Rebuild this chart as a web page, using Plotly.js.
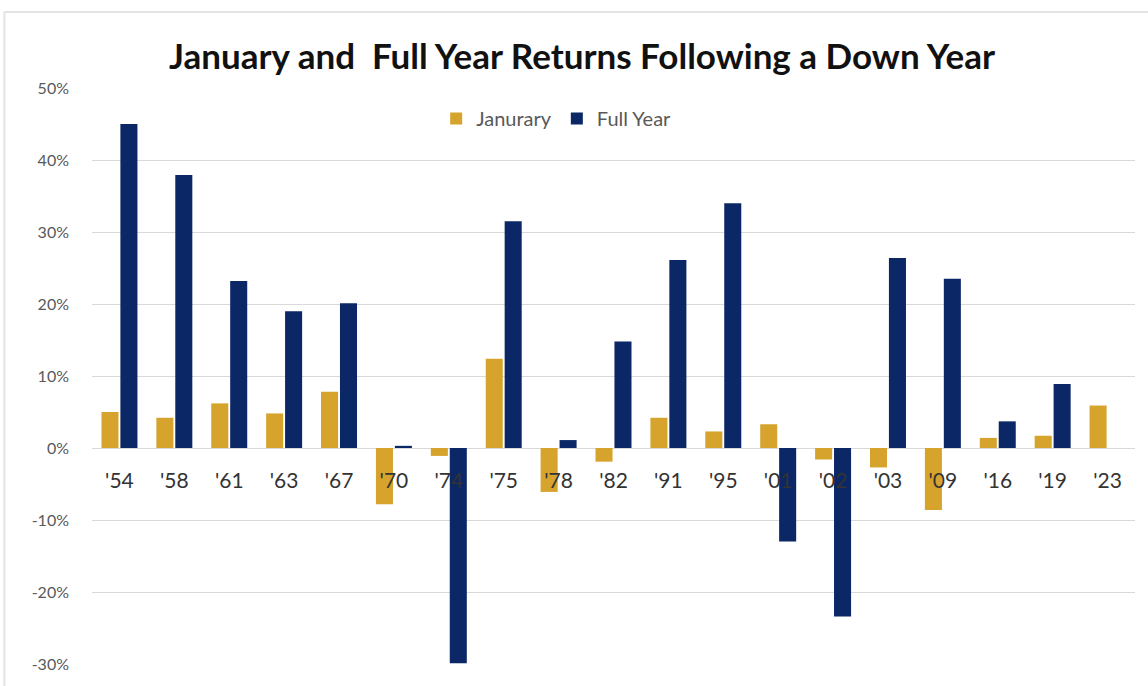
<!DOCTYPE html>
<html>
<head>
<meta charset="utf-8">
<script src="https://cdn.plot.ly/plotly-3.0.1.min.js"></script>
<style>html,body{margin:0;padding:0;background:#fff;}#chart{width:1148px;height:686px;}</style>
</head>
<body>
<div id="chart"></div>
<script>
const years = ["'54","'58","'61","'63","'67","'70","'74","'75","'78","'82","'91","'95","'01","'02","'03","'09","'16","'19","'23"];
const january = [5.0, 4.2, 6.2, 4.8, 7.8, -7.8, -1.1, 12.4, -6.1, -1.9, 4.2, 2.3, 3.3, -1.6, -2.7, -8.6, 1.4, 1.7, 5.9];
const fullYear = [45.0, 37.9, 23.2, 19.0, 20.1, 0.3, -29.9, 31.5, 1.1, 14.8, 26.1, 34.0, -13.0, -23.4, 26.4, 23.5, 3.7, 8.9, null];
const yTicks = [-30, -20, -10, 0, 10, 20, 30, 40, 50];
const yTickText = yTicks.map(v => v + '%');

const yMin = -30, yMax = 50;

const traces = [
  {type: 'bar', name: 'Janurary', x: years, y: january, marker: {color: '#D6A42C'}, hoverinfo: 'x+y'},
  {type: 'bar', name: 'Full Year', x: years, y: fullYear, marker: {color: '#0B2766'}, hoverinfo: 'x+y'}
];

const layout = {
  width: 1148, height: 686,
  margin: {l: 92, r: 13, t: 88, b: 22},
  paper_bgcolor: '#ffffff', plot_bgcolor: '#ffffff',
  font: {family: 'Lato, "Open Sans", sans-serif', color: '#595959'},
  title: {
    text: '<b>January and  Full Year Returns Following a Down Year</b>',
    font: {family: 'Lato, "Open Sans", sans-serif', size: 35, color: '#111111'},
    x: 0.507, xanchor: 'center', y: 0.918, yanchor: 'middle'
  },
  barmode: 'group', bargap: 0.31, bargroupgap: 0.1,
  showlegend: true,
  legend: {
    orientation: 'h', x: 0.33, xanchor: 'left', y: 0.947, yanchor: 'middle',
    font: {size: 20, color: '#595959'}, bgcolor: 'rgba(0,0,0,0)',
    itemwidth: 30, traceorder: 'normal'
  },
  xaxis: {
    type: 'category',
    anchor: 'free',
    position: (0 - yMin) / (yMax - yMin),
    showgrid: false, showline: false, zeroline: false,
    ticks: '', ticklabelstandoff: 18,
    tickfont: {size: 21, color: '#333333'},
    fixedrange: true
  },
  yaxis: {
    range: [yMin, yMax],
    tickvals: yTicks, ticktext: yTickText,
    showgrid: true, gridcolor: '#d9d9d9', gridwidth: 1,
    zeroline: true, zerolinecolor: '#d9d9d9', zerolinewidth: 1,
    showline: false, ticks: '', ticklabelstandoff: 22,
    tickfont: {size: 16, color: '#595959'},
    fixedrange: true
  },
  shapes: [
    {type: 'line', xref: 'paper', yref: 'paper', x0: -0.084, x1: 1.02, y0: 1.132, y1: 1.132, line: {color: '#e3e3e3', width: 2}},
    {type: 'line', xref: 'paper', yref: 'paper', x0: -0.084, x1: -0.084, y0: 1.132, y1: -0.05, line: {color: '#e3e3e3', width: 2}}
  ]
};

Plotly.newPlot('chart', traces, layout, {displayModeBar: false, staticPlot: true});
</script>
</body>
</html>
